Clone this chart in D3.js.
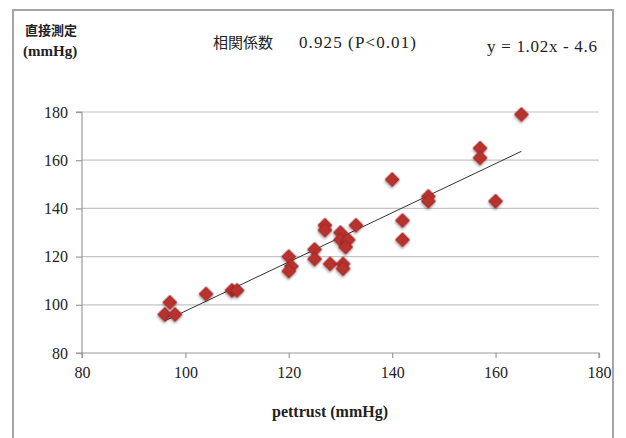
<!DOCTYPE html>
<html lang="ja">
<head>
<meta charset="UTF-8">
<script src="https://d3js.org/d3.v7.min.js"></script>
<title>pettrust vs direct</title>
<style>
  body { margin: 0; background: #fff; }
  text { font-family: "Liberation Serif", "DejaVu Serif", serif; fill: #222; }
  .jp { font-family: "Noto Sans CJK JP", sans-serif; }
</style>
</head>
<body>
<script>
    // pettrust (mmHg) vs direct measurement (mmHg)
    var pettrust = [96, 97, 98, 104, 109, 110, 120, 120.5, 120, 125, 125, 127, 127, 128, 130,
                    130, 131.5, 131, 130.5, 130.5, 133, 140, 142, 142, 147, 147, 157, 157, 160, 165];
    var direct   = [96, 101, 96, 104.5, 106, 106, 120, 116, 114, 123, 119, 133, 131, 117, 130,
                    127, 127, 124, 117, 115, 133, 152, 135, 127, 145, 143, 165, 161, 143, 179];
    var xTicks = [80, 100, 120, 140, 160, 180];
    var yTicks = [80, 100, 120, 140, 160, 180];
    var slope = 1.02, intercept = -4.6;

    var width = 626, height = 438;
    var pLeft = 82, pRight = 599, pTop = 112, pBottom = 353;

    var svg = d3.select("body").append("svg")
            .attr("width", width)
            .attr("height", height);

    var defs = svg.append("defs");
    var f = defs.append("filter").attr("id", "shadow")
            .attr("x", "-50%").attr("y", "-50%").attr("width", "200%").attr("height", "200%");
    f.append("feDropShadow").attr("dx", 1).attr("dy", 1.5).attr("stdDeviation", 1.3)
            .attr("flood-color", "#000").attr("flood-opacity", 0.35);

    // frame
    svg.append("rect")
            .attr("x", 13).attr("y", 10)
            .attr("width", 600).attr("height", 440)
            .attr("fill", "#fff")
            .attr("stroke", "#a6a6a6")
            .attr("stroke-width", 2);

    var x = d3.scaleLinear().domain([80, 180]).range([pLeft, pRight]);
    var y = d3.scaleLinear().domain([80, 180]).range([pBottom, pTop]);

    // gridlines
    svg.append("g").selectAll("line")
            .data(yTicks.slice(1))
            .enter().append("line")
            .attr("x1", pLeft).attr("x2", pRight)
            .attr("y1", function (d) { return y(d); })
            .attr("y2", function (d) { return y(d); })
            .attr("stroke", "#c4c4c4")
            .attr("stroke-width", 1.2);

    var xAxis = d3.axisBottom(x).tickValues(xTicks).tickSize(5).tickPadding(9);
    var yAxis = d3.axisLeft(y).tickValues(yTicks).tickSize(6).tickPadding(8);

    var gx = svg.append("g")
            .attr("transform", "translate(0," + pBottom + ")")
            .call(xAxis);
    var gy = svg.append("g")
            .attr("transform", "translate(" + pLeft + ",0)")
            .call(yAxis);

    [gx, gy].forEach(function (g) {
        g.attr("font-family", null);
        g.selectAll("path, line").attr("stroke", "#9a9a9a").attr("stroke-width", 1.2);
        g.selectAll("text")
                .style("font-family", "'Liberation Serif', serif")
                .style("font-size", "16px")
                .attr("fill", "#333");
    });
    gx.select(".domain").attr("d", "M" + pLeft + ",5V0H" + pRight + "V5");
    gy.select(".domain").attr("d", "M-6," + pTop + "H0V" + pBottom + "H-6");

    // trend line
    var xmin = d3.min(pettrust), xmax = d3.max(pettrust);
    svg.append("line")
            .attr("x1", x(xmin)).attr("y1", y(slope * xmin + intercept))
            .attr("x2", x(xmax)).attr("y2", y(slope * xmax + intercept))
            .attr("stroke", "#333")
            .attr("stroke-width", 1);

    // points
    var data = pettrust.map(function (d, i) { return [d, direct[i]]; });
    var sym = d3.symbol().type(d3.symbolSquare).size(100);
    svg.append("g").selectAll("path")
            .data(data)
            .enter().append("path")
            .attr("d", sym)
            .attr("transform", function (d) {
                return "translate(" + x(d[0]) + "," + y(d[1]) + ") rotate(45)";
            })
            .attr("fill", "#b8312d")
            .attr("stroke", "#a02724")
            .attr("stroke-width", 0.8)
            .attr("filter", "url(#shadow)");

    // titles
    svg.append("text").attr("class", "jp")
            .attr("x", 25).attr("y", 35)
            .style("font-size", "13px").style("font-weight", "bold")
            .text("直接測定");
    svg.append("text")
            .attr("x", 23).attr("y", 56)
            .style("font-size", "15px").style("font-weight", "bold")
            .text("(mmHg)");

    svg.append("text").attr("class", "jp")
            .attr("x", 213).attr("y", 48)
            .style("font-size", "15px")
            .text("相関係数");
    svg.append("text")
            .attr("x", 299).attr("y", 48)
            .attr("textLength", 117)
            .style("font-size", "17px")
            .text("0.925 (P<0.01)");

    svg.append("text")
            .attr("x", 487).attr("y", 52)
            .attr("textLength", 110)
            .style("font-size", "17px")
            .text("y = 1.02x - 4.6");

    svg.append("text")
            .attr("x", 330).attr("y", 417)
            .attr("text-anchor", "middle")
            .style("font-size", "16px").style("font-weight", "bold")
            .text("pettrust (mmHg)");
</script>
</body>
</html>
